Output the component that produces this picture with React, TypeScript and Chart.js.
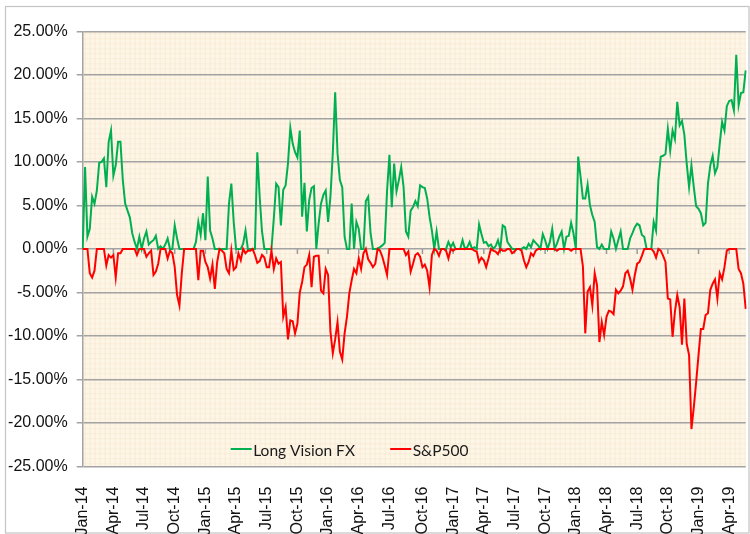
import { useEffect, useRef } from 'react';
import { Chart, registerables } from 'chart.js';

Chart.register(...registerables);

// ---- Data (weekly, starting Fri 3 Jan 2014), values in percent ----
const seriesNames = ['Long Vision FX', 'S&P500'];

const longVisionFX = [
  0, 9.4, 1.4, 2.3, 6.0, 5.2, 6.7, 9.9, 10.0, 10.4,
  7.1, 12.3, 13.6, 8.4, 9.6, 12.3, 12.3, 7.9, 5.2, 4.4,
  3.6, 1.8, 0.8, 0, 1.4, 0, 1.2, 2.0, 0.5, 0.8,
  1.0, 1.5, 0, 0.3, 0, 0.5, 1.2, 0, 0, 2.7,
  1.2, 0, 0, 0, 0, 0, 0, 0, 0.8, 3.1,
  1.6, 4.1, 1.0, 8.3, 2.1, 1.2, 0, 0, 0, 0,
  0, 0, 5.2, 7.5, 3.1, 0, 0, 0, 0.6, 2.1,
  0, 0, 0, 0, 11.1, 6.0, 2.0, 0, 0, 0,
  0, 3.5, 7.5, 7.1, 2.7, 6.8, 7.3, 9.8, 13.9, 12.1,
  11.1, 10.5, 13.6, 3.7, 7.6, 2.0, 5.6, 7.0, 7.2, 0,
  2.9, 5.2, 6.2, 6.7, 3.1, 6.0, 11.0, 18.0, 11.0, 7.9,
  7.1, 1.4, 0, 0, 5.2, 0, 3.1, 2.3, 0, 0,
  5.5, 6.0, 1.8, 0, 0, 0, 0.2, 0.4, 0.7, 6.7,
  10.8, 4.8, 9.8, 6.6, 7.9, 9.4, 7.1, 2.0, 1.4, 4.4,
  4.8, 5.5, 4.9, 7.3, 7.1, 7.0, 5.8, 3.7, 2.1, 0,
  2.0, 0, 0, 0, 0, 0.8, 0.2, 0.7, 0, 0,
  0, 1.0, 0, 0.2, 0.8, 0, 0.2, 0, 2.8, 1.7,
  0.7, 0.8, 0.3, 0.5, 0, 0.3, 1.0, 0, 2.7, 2.5,
  0.8, 0.4, 0, 0, 0, 0, 0, 0.2, 0, 0.6,
  0.2, 1.0, 0.7, 0.4, 0, 1.7, 1.0, 0, 0.8, 2.3,
  0, 0.6, 1.4, 2.0, 0, 1.4, 1.5, 3.0, 1.8, 0,
  10.6, 8.3, 5.8, 5.8, 7.4, 5.0, 3.9, 3.1, 0.2, 0,
  0.5, 0, 0, 0, 2.0, 1.2, 0, 1.0, 2.0, 0,
  0, 0, 1.2, 1.8, 2.5, 2.9, 2.7, 1.6, 1.4, 0,
  0, 0, 3.1, 2.1, 7.9, 10.6, 10.7, 10.9, 13.8, 11.3,
  13.6, 12.6, 16.9, 14.2, 14.7, 13.1, 9.8, 7.1, 9.6, 7.1,
  4.9, 4.6, 4.1, 2.7, 3.0, 7.5, 9.6, 10.7, 8.7, 9.4,
  12.1, 14.6, 13.6, 16.4, 17.0, 17.1, 15.9, 22.3, 16.5, 17.9,
  18.0, 20.5,
];

const sp500 = [
  0, 0, 0, -2.8, -3.3, -2.5, 0, 0, 0, 0,
  -1.9, -0.7, -1.0, -0.7, -3.3, -0.5, -0.5, 0, 0, 0,
  0, 0, 0, -0.7, 0, 0, 0, -0.9, -0.5, -0.2,
  -3.0, -2.6, -1.7, 0, 0, 0, -1.1, -0.2, -0.5, -2.1,
  -5.3, -6.5, -2.8, 0, 0, 0, 0, 0, 0, -3.6,
  -0.2, -0.2, -1.5, -2.1, -3.4, -1.8, -4.6, -1.5, 0, -0.2,
  -0.5, -2.3, -2.8, -0.2, -2.4, -2.1, -0.5, -1.3, 0, -0.5,
  -0.2, -0.2, 0, -0.7, -1.6, -1.4, -0.7, -1.0, -2.1, -2.1,
  -0.2, -2.3, -1.1, -1.7, -1.5, -7.8, -6.7, -10.4, -8.2, -8.3,
  -9.7, -8.6, -5.0, -3.8, -2.1, -1.8, -0.7, -4.4, -0.9, -0.8,
  -0.8, -4.8, -5.1, -2.3, -3.0, -9.5, -12.0, -10.4, -8.4, -11.8,
  -12.7, -9.7, -7.8, -5.1, -3.6, -2.3, -2.8, -1.1, -2.3, -0.5,
  0, -1.2, -1.6, -2.1, -1.7, 0, -0.2, -0.9, -1.9, -3.0,
  0, 0, 0, 0, 0, 0, 0, -0.7, -0.3, -2.6,
  -1.7, -0.7, -0.5, -0.9, -2.1, -1.8, -2.5, -4.4, -0.7, 0,
  -0.2, -0.8, 0, 0, -0.2, -1.1, 0, -0.2, 0, 0,
  0, 0, 0, 0, 0, 0, -0.2, -0.3, -1.5, -1.0,
  -1.3, -2.1, -1.1, 0, -0.2, -0.3, -0.6, 0, -0.2, -0.2,
  0, 0, -0.5, -0.3, 0, 0, -0.2, -1.3, -2.1, -1.5,
  -0.5, -0.8, -0.2, 0, 0, 0, 0, 0, 0, 0,
  0, -0.2, 0, 0, 0, 0, 0, -0.2, 0, 0,
  0, 0, -2.0, -9.7, -4.9, -4.4, -6.5, -2.8, -4.2, -10.7,
  -8.4, -9.9, -7.8, -7.1, -7.2, -7.5, -4.7, -5.1, -4.8, -4.3,
  -2.8, -2.5, -3.4, -4.7, -3.0, -1.7, -1.5, -0.8, 0, 0,
  0, 0, -0.3, -1.0, 0, -0.2, -0.8, -1.5, -5.7, -5.8,
  -10.1, -7.2, -5.3, -6.7, -11.0, -5.7, -10.9, -12.2, -20.7, -18.2,
  -15.3, -12.2, -9.2, -9.2, -7.6, -7.4, -4.7, -4.0, -3.5, -5.7,
  -2.8, -3.5, -2.1, -0.2, 0, 0, 0, 0, -2.3, -2.8,
  -4.0, -6.9,
];

const quarterLabels = [
  'Jan-14', 'Apr-14', 'Jul-14', 'Oct-14',
  'Jan-15', 'Apr-15', 'Jul-15', 'Oct-15',
  'Jan-16', 'Apr-16', 'Jul-16', 'Oct-16',
  'Jan-17', 'Apr-17', 'Jul-17', 'Oct-17',
  'Jan-18', 'Apr-18', 'Jul-18', 'Oct-18',
  'Jan-19', 'Apr-19',
];

const monthNames = ['Jan', 'Feb', 'Mar', 'Apr', 'May', 'Jun', 'Jul', 'Aug', 'Sep', 'Oct', 'Nov', 'Dec'];

// weekly category labels (dates of each weekly observation)
const weekLabels = longVisionFX.map((_, i) => {
  const d = new Date(Date.UTC(2014, 0, 3 + 7 * i));
  return monthNames[d.getUTCMonth()] + '-' + String(d.getUTCFullYear()).slice(2);
});

const isQuarterStart = (i: number) =>
  quarterLabels.includes(weekLabels[i]) && (i === 0 || weekLabels[i - 1] !== weekLabels[i]);

const GREEN = '#00B050';
const RED = '#FF0000';
const GRID = '#a3a3a3';

const paperPlugin = {
  id: 'paper',
  beforeDraw(chart: any) {
    const { ctx, chartArea: a, width, height } = chart;
    ctx.save();
    ctx.fillStyle = '#ffffff';
    ctx.fillRect(0, 0, width, height);
    ctx.strokeStyle = '#c4c4c4';
    ctx.lineWidth = 1.2;
    ctx.strokeRect(5.5, 6.5, width - 6.5, height - 7.5);
    ctx.fillStyle = '#fdf5e6';
    ctx.fillRect(a.left, a.top, a.right - a.left, a.bottom - a.top);
    ctx.strokeStyle = 'rgba(236, 210, 168, 0.22)';
    ctx.lineWidth = 1;
    ctx.beginPath();
    for (let x = a.left + 2.5; x < a.right; x += 5) {
      ctx.moveTo(x, a.top);
      ctx.lineTo(x, a.bottom);
    }
    for (let y = a.top + 2.5; y < a.bottom; y += 5) {
      ctx.moveTo(a.left, y);
      ctx.lineTo(a.right, y);
    }
    ctx.stroke();
    ctx.restore();
  },
  beforeDatasetsDraw(chart: any) {
    const { ctx, scales } = chart;
    const xs = scales.x;
    const y0 = scales.y.getPixelForValue(0);
    ctx.save();
    ctx.strokeStyle = '#9a9a9a';
    ctx.lineWidth = 1.5;
    ctx.beginPath();
    weekLabels.forEach((_, i) => {
      if (i > 0 && isQuarterStart(i)) {
        const x = xs.getPixelForValue(i);
        ctx.moveTo(x, y0);
        ctx.lineTo(x, y0 + 5);
      }
    });
    ctx.stroke();
    ctx.restore();
  },
  afterDatasetsDraw(chart: any) {
    const { ctx, chartArea: a } = chart;
    const y = a.bottom - 17;
    const items = [
      { name: seriesNames[0], color: GREEN, x: a.left + 148 },
      { name: seriesNames[1], color: RED, x: a.left + 307.5 },
    ];
    ctx.save();
    ctx.font = '15.5px Lato, "Open Sans", sans-serif';
    ctx.textBaseline = 'middle';
    ctx.textAlign = 'left';
    items.forEach((it) => {
      ctx.strokeStyle = it.color;
      ctx.lineWidth = 2;
      ctx.beginPath();
      ctx.moveTo(it.x, y - 0.5);
      ctx.lineTo(it.x + 21, y - 0.5);
      ctx.stroke();
      ctx.fillStyle = '#1a1a1a';
      ctx.fillText(it.name, it.x + 22.5, y + 1);
    });
    ctx.restore();
  },
};

export default function App() {
  const canvasRef = useRef<HTMLCanvasElement | null>(null);

  useEffect(() => {
    document.body.style.margin = '0';
    const canvas = canvasRef.current;
    if (!canvas) return;
    const chart = new Chart(canvas, {
      type: 'line',
      data: {
        labels: weekLabels,
        datasets: [
          {
            label: seriesNames[0],
            data: longVisionFX,
            borderColor: GREEN,
            backgroundColor: GREEN,
            borderWidth: 2,
            pointRadius: 0,
            tension: 0,
            order: 1,
          },
          {
            label: seriesNames[1],
            data: sp500,
            borderColor: RED,
            backgroundColor: RED,
            borderWidth: 2,
            pointRadius: 0,
            tension: 0,
            order: 0,
          },
        ],
      },
      options: {
        responsive: false,
        animation: false,
        devicePixelRatio: 1,
        layout: { padding: { top: 31.3, right: 4.3, left: 0, bottom: 0 } },
        plugins: {
          legend: { display: false },
          tooltip: { enabled: false },
        },
        scales: {
          x: {
            type: 'category',
            offset: false,
            grid: { display: false },
            border: { display: false },
            ticks: {
              autoSkip: false,
              maxRotation: 90,
              minRotation: 90,
              padding: 12,
              color: '#111',
              font: { family: '"Liberation Sans", Arial, sans-serif', size: 16 },
              callback: (_v: any, i: number) => (isQuarterStart(i) ? weekLabels[i] : null),
            },
            afterFit: (s: any) => {
              s.height = 67.5;
              s.paddingLeft = 0;
              s.paddingRight = 0;
            },
          },
          y: {
            min: -25,
            max: 25,
            grid: {
              color: GRID,
              lineWidth: 1.5,
              drawTicks: true,
              tickLength: 6,
            },
            border: { display: true, color: GRID, width: 1.5 },
            ticks: {
              stepSize: 5,
              padding: 9,
              color: '#111',
              font: { family: '"Liberation Sans", Arial, sans-serif', size: 16 },
              callback: (v: any) => Number(v).toFixed(2) + '%',
            },
            afterFit: (s: any) => {
              s.width = 82.7;
              s.paddingTop = 0;
              s.paddingBottom = 0;
            },
          },
        },
      },
      plugins: [paperPlugin],
    });
    return () => chart.destroy();
  }, []);

  return (
    <canvas
      ref={canvasRef}
      width={750}
      height={534}
      style={{ display: 'block', width: 750, height: 534 }}
    />
  );
}
